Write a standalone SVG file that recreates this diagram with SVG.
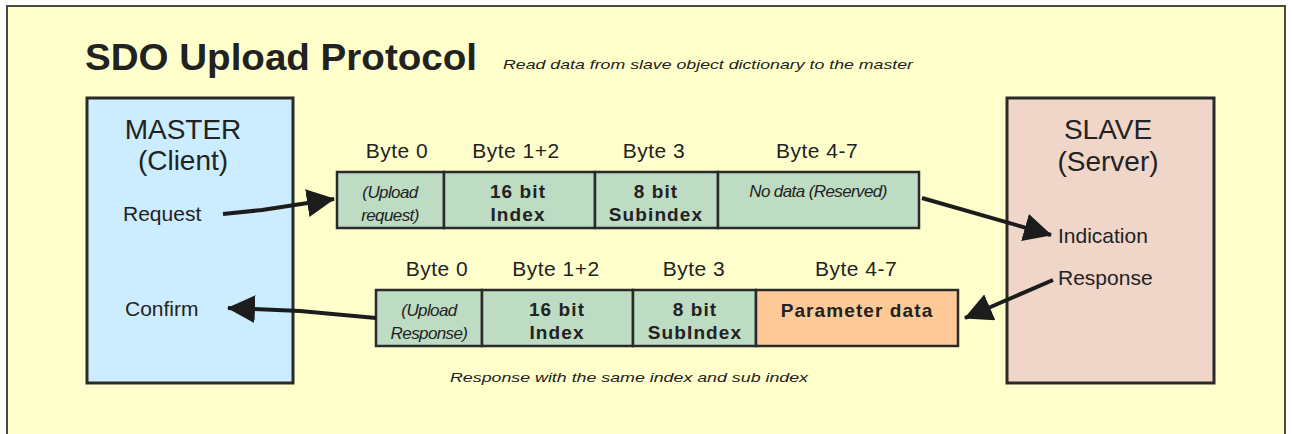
<svg xmlns="http://www.w3.org/2000/svg" width="1292" height="434" viewBox="0 0 1292 434">
  <style>
    .t { font-family: "Liberation Sans", Arial, sans-serif; fill: #222; }
    .big { font-size: 28px; }
    .lbl { font-size: 21px; }
    .byte { font-size: 21px; letter-spacing: 0.5px; }
    .cellb { font-size: 19px; font-weight: bold; letter-spacing: 1.1px; }
    .celli { font-size: 17px; font-style: italic; letter-spacing: -0.6px; }
    .note { font-size: 13px; font-style: italic; }
    .cell { stroke: #2a2a2a; stroke-width: 2.5; }
    .green { fill: #BEDCC4; }
    .orange { fill: #FFC997; }
    .conn { fill: none; stroke: #1c1c1c; stroke-width: 4; stroke-linejoin: round; marker-end: url(#head); }
  </style>
  <defs>
    <marker id="head" markerUnits="userSpaceOnUse" viewBox="0 0 28 28" refX="27" refY="14" markerWidth="28" markerHeight="28" orient="auto">
      <path d="M0,0 L28,14 L0,28 z" fill="#1c1c1c"/>
    </marker>
  </defs>

  <!-- panel background -->
  <rect x="0" y="0" width="1292" height="434" fill="#FFFFFF"/>
  <rect x="7" y="6" width="1278" height="440" fill="#FFFFCC" stroke="#4a4a42" stroke-width="2"/>

  <!-- heading -->
  <g id="title">
    <text class="t" x="85" y="70" font-size="37" font-weight="bold" textLength="392" lengthAdjust="spacingAndGlyphs">SDO Upload Protocol</text>
    <text class="t note" x="503" y="69" textLength="410" lengthAdjust="spacingAndGlyphs">Read data from slave object dictionary to the master</text>
  </g>

  <!-- master (client) -->
  <g id="master">
    <rect x="87" y="98" width="206" height="285" fill="#CCECFF" stroke="#2a2a2a" stroke-width="3"/>
    <text class="t big" x="183" y="139" text-anchor="middle">MASTER</text>
    <text class="t big" x="183" y="170" text-anchor="middle">(Client)</text>
    <text class="t lbl" x="123" y="221">Request</text>
    <text class="t lbl" x="125" y="316">Confirm</text>
  </g>

  <!-- slave (server) -->
  <g id="slave">
    <rect x="1007" y="98" width="207" height="285" fill="#EFD6C9" stroke="#2a2a2a" stroke-width="3"/>
    <text class="t big" x="1108" y="139" text-anchor="middle">SLAVE</text>
    <text class="t big" x="1108" y="171" text-anchor="middle">(Server)</text>
    <text class="t lbl" x="1058" y="243">Indication</text>
    <text class="t lbl" x="1058" y="285">Response</text>
  </g>

  <!-- upload request frame -->
  <g id="request-frame">
    <text class="t byte" x="397" y="158" text-anchor="middle">Byte 0</text>
    <text class="t byte" x="516" y="158" text-anchor="middle">Byte 1+2</text>
    <text class="t byte" x="654" y="158" text-anchor="middle">Byte 3</text>
    <text class="t byte" x="817" y="158" text-anchor="middle">Byte 4-7</text>
    <rect class="cell green" x="337" y="172" width="107" height="56"/>
    <rect class="cell green" x="444" y="172" width="151" height="56"/>
    <rect class="cell green" x="595" y="172" width="123" height="56"/>
    <rect class="cell green" x="718" y="172" width="201" height="56"/>
    <text class="t celli" x="390" y="198" text-anchor="middle">(Upload</text>
    <text class="t celli" x="390" y="221" text-anchor="middle">request)</text>
    <text class="t cellb" x="518" y="198" text-anchor="middle">16 bit</text>
    <text class="t cellb" x="518" y="221" text-anchor="middle">Index</text>
    <text class="t cellb" x="656" y="198" text-anchor="middle">8 bit</text>
    <text class="t cellb" x="656" y="221" text-anchor="middle">Subindex</text>
    <text class="t celli" x="818" y="197" text-anchor="middle">No data (Reserved)</text>
  </g>

  <!-- upload response frame -->
  <g id="response-frame">
    <text class="t byte" x="437" y="276" text-anchor="middle">Byte 0</text>
    <text class="t byte" x="556" y="276" text-anchor="middle">Byte 1+2</text>
    <text class="t byte" x="694" y="276" text-anchor="middle">Byte 3</text>
    <text class="t byte" x="856" y="276" text-anchor="middle">Byte 4-7</text>
    <rect class="cell green" x="376" y="290" width="106" height="56"/>
    <rect class="cell green" x="482" y="290" width="151" height="56"/>
    <rect class="cell green" x="633" y="290" width="123" height="56"/>
    <rect class="cell orange" x="756" y="290" width="202" height="56"/>
    <text class="t celli" x="429" y="316" text-anchor="middle">(Upload</text>
    <text class="t celli" x="429" y="339" text-anchor="middle">Response)</text>
    <text class="t cellb" x="557" y="316" text-anchor="middle">16 bit</text>
    <text class="t cellb" x="557" y="339" text-anchor="middle">Index</text>
    <text class="t cellb" x="695" y="316" text-anchor="middle">8 bit</text>
    <text class="t cellb" x="695" y="339" text-anchor="middle">SubIndex</text>
    <text class="t cellb" x="857" y="317" text-anchor="middle">Parameter data</text>
  </g>

  <text id="caption" class="t note" x="450" y="382" textLength="358" lengthAdjust="spacingAndGlyphs">Response with the same index and sub index</text>

  <!-- connectors -->
  <g id="connectors">
    <path class="conn" d="M223,214 L262,210 L334,199"/>
    <path class="conn" d="M922,198 L1051,235"/>
    <path class="conn" d="M1053,280 L965,318"/>
    <path class="conn" d="M376,318 L300,311 L228,308"/>
  </g>
</svg>
